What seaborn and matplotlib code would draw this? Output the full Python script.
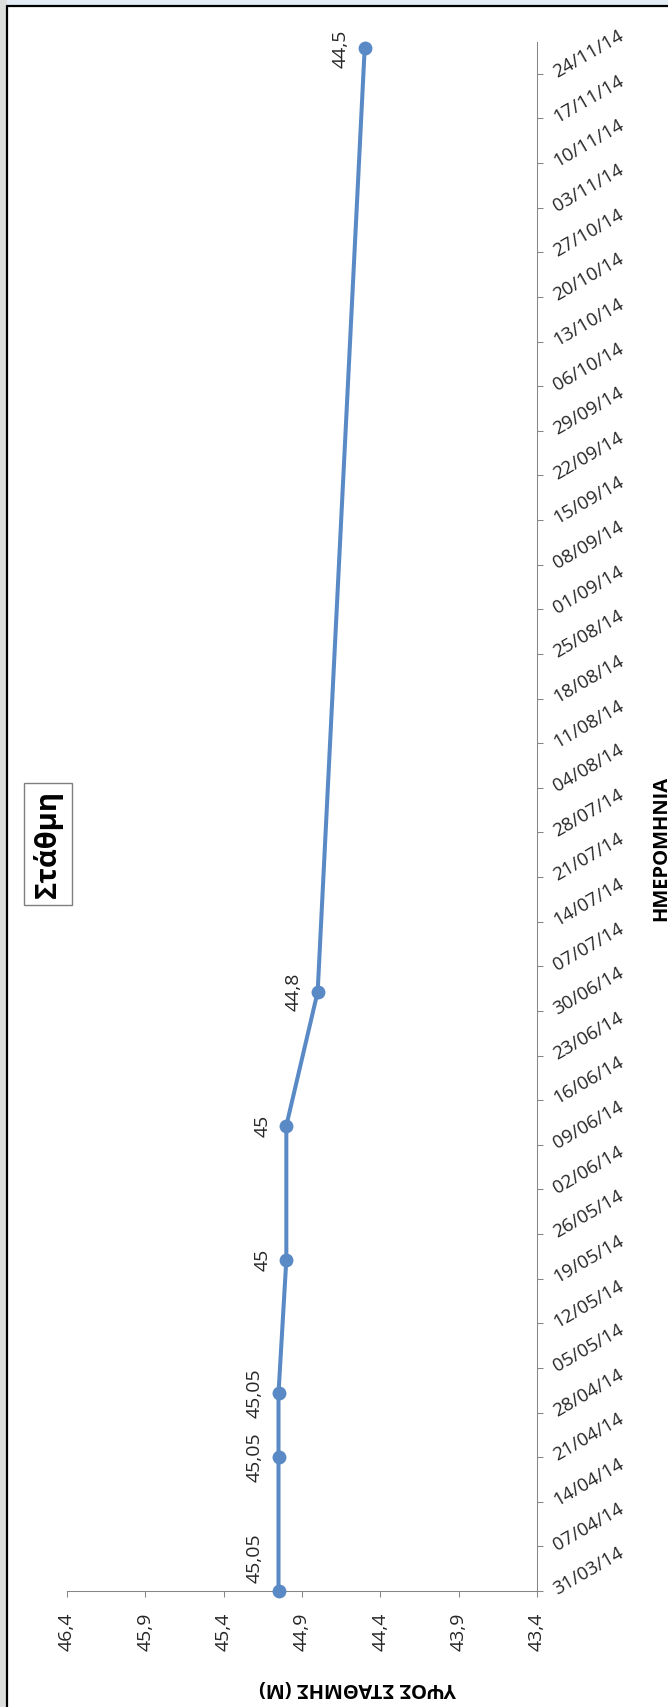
import numpy as np
import pandas as pd
import matplotlib
matplotlib.use("Agg")
import matplotlib.pyplot as plt
import matplotlib.dates as mdates
from matplotlib.patches import Rectangle
import seaborn as sns

# ========== data ==========
dates = ["2014-03-31", "2014-04-21", "2014-05-01", "2014-05-22",
         "2014-06-12", "2014-07-03", "2014-11-28"]
levels = [45.05, 45.05, 45.05, 45.0, 45.0, 44.8, 44.5]
level_ticks = [46.4, 45.9, 45.4, 44.9, 44.4, 43.9, 43.4]
date_ticks = pd.date_range("2014-03-31", "2014-11-24", freq="7D")

title = "Στάθμη"
value_title = "ΥΨΟΣ ΣΤΑΘΜΗΣ (Μ)"
date_title = "ΗΜΕΡΟΜΗΝΙΑ"

df = pd.DataFrame({"date": pd.to_datetime(dates), "level": levels})

# ========== style ==========
sns.set_theme(style="white")
plt.rcParams["font.family"] = ["Open Sans", "DejaVu Sans"]

W, H = 668, 1707
BLUE = "#5A8AC6"
GREY = "#868686"
TXT = "#262626"

fig = plt.figure(figsize=(W / 100, H / 100), dpi=100)
fig.patch.set_facecolor("white")

# background outside the chart frame
fig.patches.append(Rectangle((0, 1 - 6 / H), 1, 6 / H, transform=fig.transFigure,
                             fc="#E4ECF5", ec="none", zorder=0))
fig.patches.append(Rectangle((0, 0), 7 / W, 1, transform=fig.transFigure,
                             fc="#DCDFDC", ec="none", zorder=0))
fig.add_artist(plt.Line2D([7 / W, 7 / W], [0, 1 - 6 / H], transform=fig.transFigure,
                          color="black", lw=1.6))
fig.add_artist(plt.Line2D([7 / W, 1], [1 - 6 / H, 1 - 6 / H], transform=fig.transFigure,
                          color="black", lw=1.6))

# plot area (chart is drawn turned: values across, dates up the page)
ax = fig.add_axes([67 / W, 1 - 1591 / H, (537 - 67) / W, (1591 - 42) / H])
ax.set_facecolor("none")

sns.lineplot(data=df, x="level", y="date", sort=False, estimator=None,
             color=BLUE, linewidth=2.9, marker="o", markersize=10,
             markeredgewidth=0, ax=ax, zorder=3, clip_on=False)

ax.set_xlim(46.4, 43.4)
ax.set_ylim(mdates.date2num(pd.Timestamp("2014-03-31")),
            mdates.date2num(pd.Timestamp("2014-11-29")))

# value axis (bottom)
ax.set_xticks(level_ticks, labels=[f"{v:g}".replace(".", ",") for v in level_ticks])
ax.tick_params(axis="x", direction="out", length=4.3, width=0.75, color=GREY,
               pad=11, labelsize=14, labelcolor=TXT, bottom=True)
for lbl in ax.get_xticklabels():
    lbl.set_rotation(90)

# date axis (right)
ax.yaxis.tick_right()
ax.set_yticks(mdates.date2num(date_ticks),
              labels=[d.strftime("%d/%m/%y") for d in date_ticks])
ax.tick_params(axis="y", direction="out", length=4.3, width=0.75, color=GREY,
               pad=8.5, labelsize=13.5, labelcolor=TXT, right=True, left=False)
for lbl in ax.get_yticklabels():
    lbl.set_rotation(30)
    lbl.set_rotation_mode("anchor")
    lbl.set_verticalalignment("center")
    lbl.set_horizontalalignment("left")

for s in ["top", "left"]:
    ax.spines[s].set_visible(False)
for s in ["bottom", "right"]:
    ax.spines[s].set_color(GREY)
    ax.spines[s].set_linewidth(0.75)
ax.set_xlabel("")
ax.set_ylabel("")
ax.grid(False)

# data labels
for i, (d, v) in enumerate(zip(df["date"], df["level"])):
    dy = 33 if i == 0 else 0
    ax.annotate(f"{v:g}".replace(".", ","), (v, mdates.date2num(d)),
                xytext=(-24, dy), textcoords="offset pixels",
                rotation=90, ha="center", va="center", fontsize=14,
                color=TXT, zorder=4)

# titles
fig.patches.append(Rectangle((24 / W, 1 - 905 / H), 48 / W, 122 / H,
                             transform=fig.transFigure, fc="white",
                             ec="#7F7F7F", lw=1, zorder=2))
fig.text(48 / W, 1 - 844 / H, title, rotation=90, ha="center", va="center",
         fontsize=21, fontweight="bold", color="black", zorder=3)
fig.text(358 / W, 1 - 1688 / H, value_title, rotation=180, ha="center",
         va="center", fontsize=14.5, fontweight="bold", color="black")
fig.text(661 / W, 1 - 848 / H, date_title, rotation=90, ha="center",
         va="center", fontsize=14.5, fontweight="bold", color="black")

fig.savefig("out.png", dpi=100)
